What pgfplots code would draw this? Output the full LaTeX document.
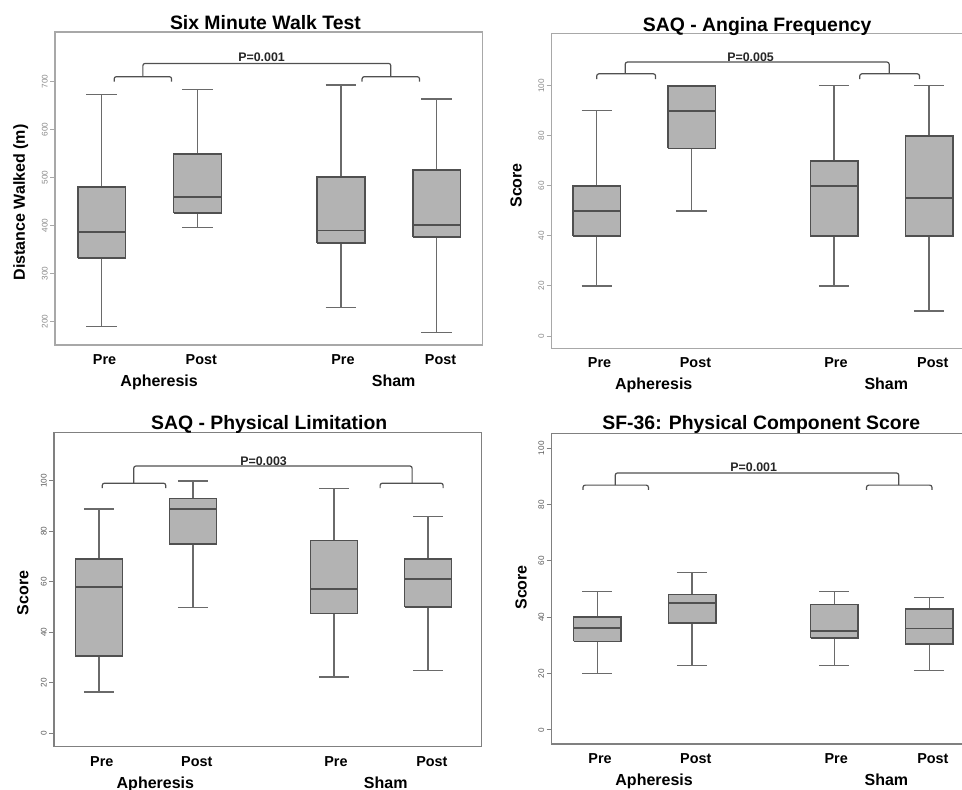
\documentclass[border=0pt]{standalone}
\usepackage{fontspec}
\setmainfont{Liberation Sans}
\usepackage{pgfplots}
\pgfplotsset{compat=1.18}

\definecolor{boxfill}{HTML}{B3B3B3}
\definecolor{boxline}{HTML}{505050}
\definecolor{whisk}{HTML}{6A6A6A}
\definecolor{framec}{HTML}{A8A8A8}
\definecolor{ticklab}{HTML}{8A8A8A}
\definecolor{ticklabd}{HTML}{5A5A5A}
\definecolor{framed}{HTML}{808080}

\pgfplotsset{
  panel/.style={
    scale only axis, clip=false, anchor=north west,
    axis line style={framec, line width=0.65pt},
    xtick=\empty,
    ytick pos=left, tick align=outside, major tick length=2.5pt,
    ytick style={draw=framec, line width=0.5pt},
    yticklabel style={rotate=90, anchor=south, inner sep=1pt,
      font=\fontsize{4.1}{4.5}\selectfont, text=ticklab},
    /pgf/number format/assume math mode=true,
    unbounded coords=jump,
  },
  dark/.style={axis line style={framed, line width=0.65pt},
    ytick style={draw=framed, line width=0.5pt},
    yticklabel style={text=ticklabd}},
  bxf/.style={draw=boxline, fill=boxfill, line width=0.75pt, line join=miter, mark=none},
  md/.style={draw=boxline, line width=0.95pt, mark=none},
  wh/.style={draw=whisk, line width=0.6pt, mark=none},
}
\tikzset{
  brk/.style={draw=boxline, line width=0.6pt, rounded corners=1.1pt},
  ptxt/.style={anchor=base, font=\bfseries\fontsize{6.2}{7}\selectfont, text=black!85},
  pp/.style={anchor=base, yshift=-9.75pt, font=\bfseries\fontsize{7.2}{8}\selectfont},
  grp/.style={anchor=base, yshift=-20.75pt, font=\bfseries\fontsize{8}{9}\selectfont},
  ttl/.style={anchor=base, font=\bfseries\fontsize{9.7}{11}\selectfont},
  ylab/.style={anchor=base, rotate=90, font=\bfseries\fontsize{8}{9}\selectfont},
}
\newcommand{\xlabs}[1]{%
  \node[pp] at (axis cs:1.03,#1) {Pre};
  \node[pp] at (axis cs:2.04,#1) {Post};
  \node[pp] at (axis cs:3.52,#1) {Pre};
  \node[pp] at (axis cs:4.54,#1) {Post};
  \node[grp] at (axis cs:1.6,#1) {Apheresis};
  \node[grp] at (axis cs:4.05,#1) {Sham};
}

\begin{document}
\begin{tikzpicture}

% ---------- Panel 1: Six Minute Walk Test ----------
\begin{axis}[panel, at={(27.5pt,379pt)}, width=213.65pt, height=156.5pt,
  xmin=0.512, xmax=4.976, ymin=151.5, ymax=803.5,
  ytick={200,300,400,500,600,700}]
% Apheresis Pre: 190 333 387 481 673
\addplot[wh] coordinates {(0.84,673) (1.16,673) (1,nan) (1,673) (1,481) (1,nan) (1,333) (1,190) (1,nan) (0.84,190) (1.16,190)};
\addplot[bxf] coordinates {(0.75,333) (1.25,333) (1.25,481) (0.75,481) (0.75,333)};
\addplot[md] coordinates {(0.75,387) (1.25,387)};
% Apheresis Post: 396 426 460 549 683
\addplot[wh] coordinates {(1.84,683) (2.16,683) (2,nan) (2,683) (2,549) (2,nan) (2,426) (2,396) (2,nan) (1.84,396) (2.16,396)};
\addplot[bxf] coordinates {(1.75,426) (2.25,426) (2.25,549) (1.75,549) (1.75,426)};
\addplot[md] coordinates {(1.75,460) (2.25,460)};
% Sham Pre: 229 364 390 501 693
\addplot[wh] coordinates {(3.34,693) (3.66,693) (3.5,nan) (3.5,693) (3.5,501) (3.5,nan) (3.5,364) (3.5,229) (3.5,nan) (3.34,229) (3.66,229)};
\addplot[bxf] coordinates {(3.25,364) (3.75,364) (3.75,501) (3.25,501) (3.25,364)};
\addplot[md] coordinates {(3.25,390) (3.75,390)};
% Sham Post: 178 376 402 516 664
\addplot[wh] coordinates {(4.34,664) (4.66,664) (4.5,nan) (4.5,664) (4.5,516) (4.5,nan) (4.5,376) (4.5,178) (4.5,nan) (4.34,178) (4.66,178)};
\addplot[bxf] coordinates {(4.25,376) (4.75,376) (4.75,516) (4.25,516) (4.25,376)};
\addplot[md] coordinates {(4.25,402) (4.75,402)};
\draw[brk] (axis cs:1.13,700) -- (axis cs:1.13,710.4) -- (axis cs:1.73,710.4) -- (axis cs:1.73,700);
\draw[brk] (axis cs:1.43,710.4) -- (axis cs:1.43,738) -- (axis cs:4.02,738) -- (axis cs:4.02,710.4);
\draw[brk] (axis cs:3.72,700) -- (axis cs:3.72,710.4) -- (axis cs:4.32,710.4) -- (axis cs:4.32,700);
\node[ptxt, yshift=0.8pt] at (axis cs:2.67,738) {P=0.001};
\node[ttl, yshift=1pt] at (axis cs:2.71,803.5) {Six Minute Walk Test};
\node[xshift=-15pt, ylab] at (rel axis cs:0,0.455) {Distance Walked (m)};
\xlabs{151.5}
\end{axis}

% ---------- Panel 2: SAQ - Angina Frequency ----------
\begin{axis}[panel, at={(275.85pt,378.35pt)}, width=212.4pt, height=157.5pt,
  xmin=0.526, xmax=5.0, ymin=-4.9, ymax=121,
  ytick={0,20,40,60,80,100}]
\addplot[wh] coordinates {(0.84,90) (1.16,90) (1,nan) (1,90) (1,60) (1,nan) (1,40) (1,20) (1,nan) (0.84,20) (1.16,20)};
\addplot[bxf] coordinates {(0.75,40) (1.25,40) (1.25,60) (0.75,60) (0.75,40)};
\addplot[md] coordinates {(0.75,50) (1.25,50)};
\addplot[wh] coordinates {(2,75) (2,50) (2,nan) (1.84,50) (2.16,50)};
\addplot[bxf] coordinates {(1.75,75) (2.25,75) (2.25,100) (1.75,100) (1.75,75)};
\addplot[md] coordinates {(1.75,90) (2.25,90)};
\addplot[wh] coordinates {(3.34,100) (3.66,100) (3.5,nan) (3.5,100) (3.5,70) (3.5,nan) (3.5,40) (3.5,20) (3.5,nan) (3.34,20) (3.66,20)};
\addplot[bxf] coordinates {(3.25,40) (3.75,40) (3.75,70) (3.25,70) (3.25,40)};
\addplot[md] coordinates {(3.25,60) (3.75,60)};
\addplot[wh] coordinates {(4.34,100) (4.66,100) (4.5,nan) (4.5,100) (4.5,80) (4.5,nan) (4.5,40) (4.5,10) (4.5,nan) (4.34,10) (4.66,10)};
\addplot[bxf] coordinates {(4.25,40) (4.75,40) (4.75,80) (4.25,80) (4.25,40)};
\addplot[md] coordinates {(4.25,55) (4.75,55)};
\draw[brk] (axis cs:1.0,102.7) -- (axis cs:1.0,104.8) -- (axis cs:1.62,104.8) -- (axis cs:1.62,102.7);
\draw[brk] (axis cs:1.3,104.8) -- (axis cs:1.3,109.5) -- (axis cs:4.08,109.5) -- (axis cs:4.08,104.8);
\draw[brk] (axis cs:3.77,102.7) -- (axis cs:3.77,104.8) -- (axis cs:4.4,104.8) -- (axis cs:4.4,102.7);
\node[ptxt, yshift=0.3pt] at (axis cs:2.62,109.5) {P=0.005};
\node[ttl, yshift=0.8pt] at (axis cs:2.69,121) {SAQ - Angina Frequency};
\node[xshift=-15pt, ylab] at (rel axis cs:0,0.517) {Score};
\xlabs{-4.9}
\end{axis}

% ---------- Panel 3: SAQ - Physical Limitation ----------
\begin{axis}[panel, dark, at={(27pt,178.65pt)}, width=213.85pt, height=157pt,
  xmin=0.522, xmax=5.07, ymin=-5.3, ymax=119.1,
  ytick={0,20,40,60,80,100}]
\addplot[wh] coordinates {(0.84,88.9) (1.16,88.9) (1,nan) (1,88.9) (1,69.1) (1,nan) (1,30.6) (1,16.4) (1,nan) (0.84,16.4) (1.16,16.4)};
\addplot[bxf] coordinates {(0.75,30.6) (1.25,30.6) (1.25,69.1) (0.75,69.1) (0.75,30.6)};
\addplot[md] coordinates {(0.75,58.1) (1.25,58.1)};
\addplot[wh] coordinates {(1.84,100) (2.16,100) (2,nan) (2,100) (2,93) (2,nan) (2,75) (2,50) (2,nan) (1.84,50) (2.16,50)};
\addplot[bxf] coordinates {(1.75,75) (2.25,75) (2.25,93) (1.75,93) (1.75,75)};
\addplot[md] coordinates {(1.75,89) (2.25,89)};
\addplot[wh] coordinates {(3.34,97.1) (3.66,97.1) (3.5,nan) (3.5,97.1) (3.5,76.3) (3.5,nan) (3.5,47.4) (3.5,22.3) (3.5,nan) (3.34,22.3) (3.66,22.3)};
\addplot[bxf] coordinates {(3.25,47.4) (3.75,47.4) (3.75,76.3) (3.25,76.3) (3.25,47.4)};
\addplot[md] coordinates {(3.25,57) (3.75,57)};
\addplot[wh] coordinates {(4.34,86) (4.66,86) (4.5,nan) (4.5,86) (4.5,69.1) (4.5,nan) (4.5,50) (4.5,24.8) (4.5,nan) (4.34,24.8) (4.66,24.8)};
\addplot[bxf] coordinates {(4.25,50) (4.75,50) (4.75,69.1) (4.25,69.1) (4.25,50)};
\addplot[md] coordinates {(4.25,61.2) (4.75,61.2)};
\draw[brk] (axis cs:1.035,97.1) -- (axis cs:1.035,99.1) -- (axis cs:1.71,99.1) -- (axis cs:1.71,97.1);
\draw[brk] (axis cs:1.37,99.1) -- (axis cs:1.37,105.9) -- (axis cs:4.33,105.9) -- (axis cs:4.33,99.1);
\draw[brk] (axis cs:3.99,97.1) -- (axis cs:3.99,99.1) -- (axis cs:4.66,99.1) -- (axis cs:4.66,97.1);
\node[ptxt, yshift=0.2pt] at (axis cs:2.75,105.9) {P=0.003};
\node[ttl, yshift=1.7pt] at (axis cs:2.81,119.1) {SAQ - Physical Limitation};
\node[xshift=-12.85pt, ylab] at (rel axis cs:0,0.49) {Score};
\xlabs{-5.3}
\end{axis}

% ---------- Panel 4: SF-36 Physical Component Score ----------
\begin{axis}[panel, dark, at={(275.85pt,178.35pt)}, width=212.4pt, height=155.35pt,
  xmin=0.52, xmax=5.0, ymin=-5, ymax=105.3,
  ytick={0,20,40,60,80,100}]
\addplot[wh] coordinates {(0.84,49) (1.16,49) (1,nan) (1,49) (1,40) (1,nan) (1,31.4) (1,20) (1,nan) (0.84,20) (1.16,20)};
\addplot[bxf] coordinates {(0.75,31.4) (1.25,31.4) (1.25,40) (0.75,40) (0.75,31.4)};
\addplot[md] coordinates {(0.75,36.1) (1.25,36.1)};
\addplot[wh] coordinates {(1.84,56) (2.16,56) (2,nan) (2,56) (2,48) (2,nan) (2,38) (2,23) (2,nan) (1.84,23) (2.16,23)};
\addplot[bxf] coordinates {(1.75,38) (2.25,38) (2.25,48) (1.75,48) (1.75,38)};
\addplot[md] coordinates {(1.75,45) (2.25,45)};
\addplot[wh] coordinates {(3.34,49) (3.66,49) (3.5,nan) (3.5,49) (3.5,44.6) (3.5,nan) (3.5,32.7) (3.5,23) (3.5,nan) (3.34,23) (3.66,23)};
\addplot[bxf] coordinates {(3.25,32.7) (3.75,32.7) (3.75,44.6) (3.25,44.6) (3.25,32.7)};
\addplot[md] coordinates {(3.25,35) (3.75,35)};
\addplot[wh] coordinates {(4.34,47) (4.66,47) (4.5,nan) (4.5,47) (4.5,43) (4.5,nan) (4.5,30.5) (4.5,21) (4.5,nan) (4.34,21) (4.66,21)};
\addplot[bxf] coordinates {(4.25,30.5) (4.75,30.5) (4.75,43) (4.25,43) (4.25,30.5)};
\addplot[md] coordinates {(4.25,36) (4.75,36)};
\draw[brk] (axis cs:0.85,85.2) -- (axis cs:0.85,86.9) -- (axis cs:1.54,86.9) -- (axis cs:1.54,85.2);
\draw[brk] (axis cs:1.19,86.9) -- (axis cs:1.19,91.2) -- (axis cs:4.18,91.2) -- (axis cs:4.18,86.9);
\draw[brk] (axis cs:3.84,85.2) -- (axis cs:3.84,86.9) -- (axis cs:4.53,86.9) -- (axis cs:4.53,85.2);
\node[ptxt, yshift=0.6pt] at (axis cs:2.65,91.2) {P=0.001};
\node[ttl, yshift=1.65pt] at (axis cs:2.73,105.3) {SF-36: Physical Component Score};
\node[xshift=-12.5pt, ylab] at (rel axis cs:0,0.504) {Score};
\xlabs{-5}
\end{axis}

\pgfresetboundingbox
\useasboundingbox (0,0) rectangle (481pt,395pt);
\end{tikzpicture}
\end{document}
